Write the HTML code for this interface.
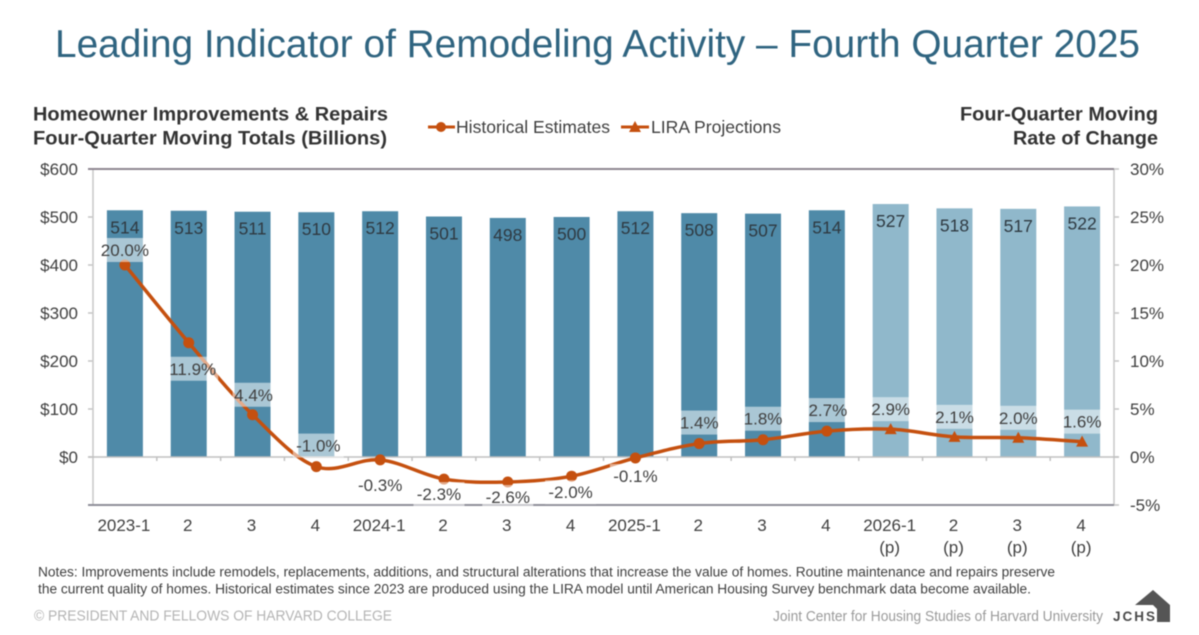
<!DOCTYPE html>
<html lang="en">
<head>
<meta charset="utf-8">
<title>Leading Indicator of Remodeling Activity</title>
<style>
html,body{margin:0;padding:0;background:#fff;width:1199px;height:635px;overflow:hidden}
svg{display:block;filter:blur(.45px)}
text{font-family:"Liberation Sans",Arial,sans-serif}
</style>
</head>
<body>
<svg id="chart" width="1199" height="635" viewBox="0 0 1199 635" xmlns="http://www.w3.org/2000/svg">
  <text x="55" y="57" font-size="38.5" fill="#2f6480" textLength="1085" lengthAdjust="spacingAndGlyphs">Leading Indicator of Remodeling Activity – Fourth Quarter 2025</text>
  <g font-size="19" font-weight="bold" fill="#333">
    <text x="33" y="120.500" textLength="355" lengthAdjust="spacingAndGlyphs">Homeowner Improvements &amp; Repairs</text>
    <text x="33" y="144.500" textLength="354" lengthAdjust="spacingAndGlyphs">Four-Quarter Moving Totals (Billions)</text>
  </g>
  <g font-size="19" font-weight="bold" fill="#333">
    <text x="960" y="120.500" textLength="198" lengthAdjust="spacingAndGlyphs">Four-Quarter Moving</text>
    <text x="1013" y="144.500" textLength="145" lengthAdjust="spacingAndGlyphs">Rate of Change</text>
  </g>
  <g>
    <g>
      <line x1="428" y1="127" x2="455" y2="127" stroke="#c5500f" stroke-width="3"/>
      <circle cx="441" cy="127" r="5" fill="#c5500f"/>
      <text x="456" y="133" font-size="17.5" fill="#404040" textLength="154" lengthAdjust="spacingAndGlyphs">Historical Estimates</text>
    </g>
    <g>
      <line x1="621" y1="127" x2="649" y2="127" stroke="#c5500f" stroke-width="3"/>
      <polygon points="635,121 641,132 629,132" fill="#c5500f"/>
      <text x="651" y="133" font-size="17.5" fill="#404040" textLength="130" lengthAdjust="spacingAndGlyphs">LIRA Projections</text>
    </g>
  </g>
  <g id="plot"></g>
  <g font-size="13.500" fill="#404040">
    <text x="38" y="576.500" textLength="1017" lengthAdjust="spacingAndGlyphs">Notes: Improvements include remodels, replacements, additions, and structural alterations that increase the value of homes. Routine maintenance and repairs preserve</text>
    <text x="38" y="593.500" textLength="993" lengthAdjust="spacingAndGlyphs">the current quality of homes. Historical estimates since 2023 are produced using the LIRA model until American Housing Survey benchmark data become available.</text>
  </g>
  <text x="34" y="620.500" font-size="15" fill="#b4b4b4" textLength="358" lengthAdjust="spacingAndGlyphs">© PRESIDENT AND FELLOWS OF HARVARD COLLEGE</text>
  <text x="773" y="621" font-size="15" fill="#9a9a9a" textLength="330" lengthAdjust="spacingAndGlyphs">Joint Center for Housing Studies of Harvard University</text>
  <g>
    <path d="M1135 605 L1153 590 L1170 605 V622 H1157 V609 L1153 605 H1135 Z" fill="#555"/>
    <text x="1113" y="621" font-size="13.500" font-weight="bold" fill="#4a4a4a" textLength="42" lengthAdjust="spacing">JCHS</text>
  </g>
</svg>
<script>
const categories = ["2023-1","2","3","4","2024-1","2","3","4","2025-1","2","3","4","2026-1","2","3","4"];
const categoryNotes = ["","","","","","","","","","","","","(p)","(p)","(p)","(p)"];
const spending = [514,513,511,510,512,501,498,500,512,508,507,514,527,518,517,522];
const rateOfChange = [20.0,11.9,4.4,-1.0,-0.3,-2.3,-2.6,-2.0,-0.1,1.4,1.8,2.7,2.9,2.1,2.0,1.6];
const firstProjectionIndex = 12;
const leftTicks = [0,100,200,300,400,500,600];
const rightTicks = [-5,0,5,10,15,20,25,30];

const NS = "http://www.w3.org/2000/svg";
const plot = document.getElementById("plot");
const PLOT_L = 93, PLOT_R = 1114, Y_ZERO = 457, Y_TOP = 169, Y_BOTTOM = 505;
const BAND = (PLOT_R - PLOT_L) / categories.length;
const xAt = i => PLOT_L + BAND * (i + 0.5);
const yLeft = v => Y_ZERO - (Y_ZERO - Y_TOP) * v / 600;
const yRight = v => Y_ZERO - (Y_ZERO - Y_TOP) * v / 30;

function make(tag, parent, attrs, text) {
  const el = document.createElementNS(NS, tag);
  for (const k in attrs) el.setAttribute(k, attrs[k]);
  if (text !== undefined) el.textContent = text;
  parent.appendChild(el);
  return el;
}

function smoothPath(points) {
  let d = "M" + points[0][0] + " " + points[0][1];
  for (let i = 0; i < points.length - 1; i++) {
    const p0 = points[Math.max(i - 1, 0)], p1 = points[i], p2 = points[i + 1], p3 = points[Math.min(i + 2, points.length - 1)];
    const k = 0.17;
    d += " C" + (p1[0] + (p2[0] - p0[0]) * k) + " " + (p1[1] + (p2[1] - p0[1]) * k) + " " +
         (p2[0] - (p3[0] - p1[0]) * k) + " " + (p2[1] - (p3[1] - p1[1]) * k) + " " + p2[0] + " " + p2[1];
  }
  return d;
}

function drawAxes() {
  leftTicks.forEach(v => {
    const y = yLeft(v);
    const t = make("line", plot, {x1: PLOT_L - 5, x2: PLOT_L, y1: y, y2: y, stroke: "#c4c4c4", "stroke-width": 1.5});
    
    
    const l = make("text", plot, {x: 78, y: y + 6, "text-anchor": "end", "font-size": 17, fill: "#404040"}, "$" + v);
    
    
  });
  rightTicks.forEach(v => {
    const y = yRight(v);
    const t = make("line", plot, {x1: PLOT_R, x2: PLOT_R + 5, y1: y, y2: y, stroke: "#c4c4c4", "stroke-width": 1.5});
    
    
    const l = make("text", plot, {x: 1130, y: y + 6, "font-size": 17, fill: "#404040"}, v + "%");
    
    
  });
  const leftAxis = make("line", plot, {x1: PLOT_L, x2: PLOT_L, y1: Y_TOP, y2: Y_BOTTOM, stroke: "#c8c8c8", "stroke-width": 1.5});
  
  
  const rightAxis = make("line", plot, {x1: PLOT_R, x2: PLOT_R, y1: Y_TOP, y2: Y_BOTTOM, stroke: "#c8c8c8", "stroke-width": 1.5});
  
  
  const top = make("line", plot, {x1: PLOT_L - 5, x2: PLOT_R, y1: Y_TOP, y2: Y_TOP, stroke: "#8f8792", "stroke-width": 2});
  
  
  const bottom = make("line", plot, {x1: PLOT_L - 5, x2: PLOT_R, y1: Y_BOTTOM, y2: Y_BOTTOM, stroke: "#8f8f99", "stroke-width": 2});
  
  
  const zero = make("line", plot, {x1: PLOT_L - 5, x2: PLOT_R + 5, y1: Y_ZERO, y2: Y_ZERO, stroke: "#c0c0c0", "stroke-width": 1.5});
  
  
  categories.forEach((c, i) => {
    if (i > 0) {
      const t = make("line", plot, {x1: PLOT_L + BAND * i, x2: PLOT_L + BAND * i, y1: Y_ZERO, y2: Y_ZERO + 4, stroke: "#c0c0c0", "stroke-width": 1.5});
      
      
    }
  });
}

function drawBars() {
  spending.forEach((v, i) => {
    const y = yLeft(v);
    const b = make("rect", plot, {x: xAt(i) - 18, y: y, width: 36, height: Y_ZERO - y, fill: i >= firstProjectionIndex ? "#90b8cb" : "#4f8aa8"});
    
    
  });
}

function drawBarLabels() {
  spending.forEach((v, i) => {
    const l = make("text", plot, {x: xAt(i), y: yLeft(v) + 23, "text-anchor": "middle", "font-size": 17.5, fill: "#2f3a42"}, v);
    
    
  });
}

function drawLine() {
  const pts = rateOfChange.map((v, i) => [xAt(i), yRight(v)]);
  const line = make("path", plot, {d: smoothPath(pts), fill: "none", stroke: "#c5500f", "stroke-width": 3.5, "stroke-linecap": "round"});
  
  
  pts.forEach((p, i) => {
    if (i >= firstProjectionIndex) {
      const m = make("polygon", plot, {points: [p[0], p[1] - 6, p[0] + 6, p[1] + 5, p[0] - 6, p[1] + 5].join(" "), fill: "#c5500f"});
      
      
    } else {
      const m = make("circle", plot, {cx: p[0], cy: p[1], r: 5.5, fill: "#c5500f"});
      
      
    }
  });
}

function drawRateLabels() {
  const shiftY = [-15,26,-20,-21,25,15,15,16,18,-21,-21,-21,-20,-20,-20,-20];
  const shiftX = [0,4,1,2,0,-5,0,-1,0,0,0,1,0,0,0,0];
  rateOfChange.forEach((v, i) => {
    const cx = xAt(i) + shiftX[i], cy = yRight(v) + shiftY[i];
    const text = v.toFixed(1) + "%";
    const w = text.length * 9 + 6;
    const box = make("rect", plot, {x: cx - w / 2, y: cy - 12, width: w, height: 24, fill: "#fff", "fill-opacity": 0.52});
    
    
    const l = make("text", plot, {x: cx, y: cy + 6, "text-anchor": "middle", "font-size": 17, fill: "#404040"}, text);
    
    
  });
}

function drawCategories() {
  categories.forEach((c, i) => {
    const l = make("text", plot, {x: xAt(i) - 1, y: 531, "text-anchor": "middle", "font-size": 17, fill: "#404040"}, c);
    
    
    if (categoryNotes[i]) {
      const n = make("text", plot, {x: xAt(i) - 1, y: 553, "text-anchor": "middle", "font-size": 17, fill: "#404040"}, categoryNotes[i]);
      
      
    }
  });
}

drawBars();
drawAxes();
drawBarLabels();
drawLine();
drawRateLabels();
drawCategories();
</script>
</body>
</html>
